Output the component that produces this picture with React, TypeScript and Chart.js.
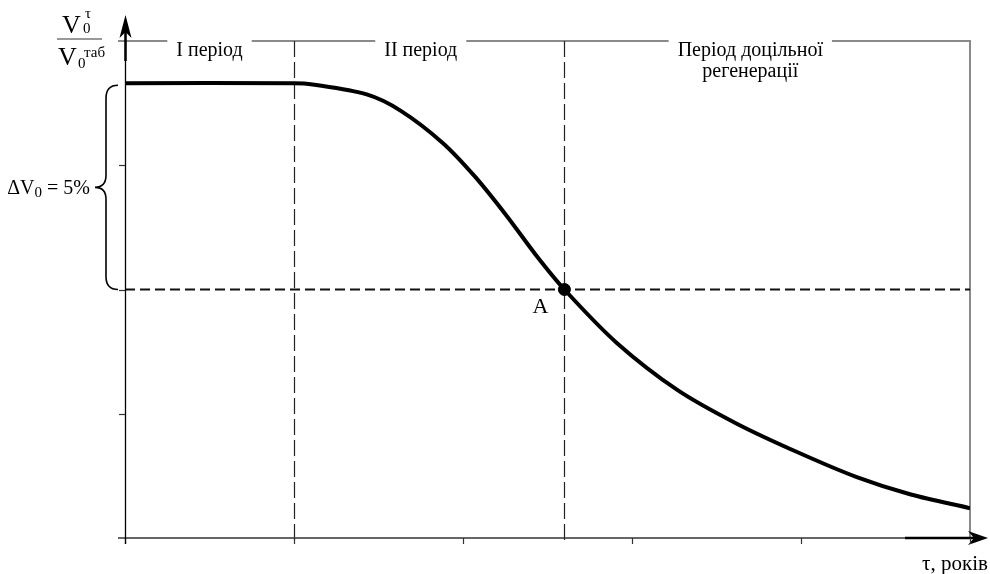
import React, { useEffect, useRef } from "react";
import { Chart, registerables } from "chart.js";

Chart.register(...registerables);

// τ, years (axis units: one tick = 1)
const tau = [0, 1, 1.11, 1.43, 1.63, 1.88, 2.07, 2.26, 2.43, 2.6, 2.91, 3.27, 3.62, 3.98, 4.33, 4.65, 5];
// V0^τ / V0^таб (axis units)
const ratio = [3.66, 3.66, 3.65, 3.57, 3.44, 3.18, 2.91, 2.59, 2.28, 2.0, 1.57, 1.19, 0.92, 0.69, 0.49, 0.35, 0.24];

const xTicks = [0, 1, 2, 3, 4, 5];
const yTicks = [1, 2, 3];
const periodBounds = [1, 2.6];
const pointAx = 2.6;
const pointAy = 2.0;
const periodNames = ["I період", "II період", "Період доцільної\nрегенерації"];
const periodCenters = [0.5, 1.75, 3.7];
const xTitle = "τ, років";

const SERIF = '"Liberation Serif", "Times New Roman", serif';

const decorPlugin = {
  id: "decor",
  beforeDatasetsDraw(chart: any) {
    const { ctx, chartArea: a, scales } = chart;
    const xs = scales.x;
    const ys = scales.y;
    ctx.save();

    // top & right border (gray)
    ctx.strokeStyle = "#8a8a8a";
    ctx.lineWidth = 2;
    ctx.beginPath();
    ctx.moveTo(a.left - 7, a.top);
    ctx.lineTo(a.right, a.top);
    ctx.lineTo(a.right, a.bottom);
    ctx.stroke();

    // vertical dashed period bounds
    ctx.strokeStyle = "#222";
    ctx.lineWidth = 1.2;
    ctx.setLineDash([16, 5]);
    periodBounds.forEach((v) => {
      const px = Math.round(xs.getPixelForValue(v)) + 0.5;
      ctx.beginPath();
      ctx.moveTo(px, a.top);
      ctx.lineTo(px, a.bottom + 5);
      ctx.stroke();
    });

    // horizontal dashed at A level
    ctx.strokeStyle = "#111";
    ctx.lineWidth = 2;
    ctx.setLineDash([10, 5]);
    const pyA = ys.getPixelForValue(pointAy);
    ctx.beginPath();
    ctx.moveTo(a.left, pyA);
    ctx.lineTo(a.right, pyA);
    ctx.stroke();
    ctx.setLineDash([]);

    // x axis
    ctx.strokeStyle = "#333";
    ctx.lineWidth = 1.6;
    ctx.beginPath();
    ctx.moveTo(a.left - 7, a.bottom);
    ctx.lineTo(a.right + 4, a.bottom);
    ctx.stroke();
    ctx.strokeStyle = "#000";
    ctx.lineWidth = 2.5;
    ctx.beginPath();
    ctx.moveTo(a.right - 65, a.bottom);
    ctx.lineTo(a.right + 4, a.bottom);
    ctx.stroke();
    // x arrow head
    ctx.fillStyle = "#000";
    ctx.beginPath();
    ctx.moveTo(a.right + 18, a.bottom);
    ctx.lineTo(a.right - 2, a.bottom - 7);
    ctx.lineTo(a.right + 4, a.bottom);
    ctx.lineTo(a.right - 2, a.bottom + 7);
    ctx.closePath();
    ctx.fill();

    // x ticks
    ctx.strokeStyle = "#333";
    ctx.lineWidth = 1.2;
    xTicks.forEach((v) => {
      const px = Math.round(xs.getPixelForValue(v)) + 0.5;
      ctx.beginPath();
      ctx.moveTo(px, a.bottom);
      ctx.lineTo(px, a.bottom + 6);
      ctx.stroke();
    });

    // y axis
    const yx = Math.round(a.left) + 0.5;
    ctx.strokeStyle = "#000";
    ctx.lineWidth = 1.3;
    ctx.beginPath();
    ctx.moveTo(yx, a.bottom + 6);
    ctx.lineTo(yx, a.top - 20);
    ctx.stroke();
    ctx.lineWidth = 2.5;
    ctx.beginPath();
    ctx.moveTo(yx, a.top - 10);
    ctx.lineTo(yx, a.top + 20);
    ctx.stroke();
    ctx.beginPath();
    ctx.moveTo(yx, a.top - 26);
    ctx.lineTo(yx - 6, a.top - 3);
    ctx.lineTo(yx, a.top - 9);
    ctx.lineTo(yx + 6, a.top - 3);
    ctx.closePath();
    ctx.fill();

    // y ticks
    ctx.lineWidth = 1.2;
    ctx.strokeStyle = "#333";
    yTicks.forEach((v) => {
      const py = Math.round(ys.getPixelForValue(v)) + 0.5;
      ctx.beginPath();
      ctx.moveTo(a.left - 6, py);
      ctx.lineTo(a.left, py);
      ctx.stroke();
    });

    ctx.restore();
  },
  afterDraw(chart: any) {
    const { ctx, chartArea: a, scales } = chart;
    const xs = scales.x;
    const ys = scales.y;
    ctx.save();
    ctx.fillStyle = "#000";
    ctx.textBaseline = "alphabetic";

    // period labels with white gaps in the top border
    ctx.font = `20px ${SERIF}`;
    ctx.textAlign = "center";
    periodNames.forEach((name, i) => {
      const lines = name.split("\n");
      const cx = xs.getPixelForValue(periodCenters[i]);
      const w = ctx.measureText(lines[0]).width;
      ctx.fillStyle = "#fff";
      ctx.fillRect(cx - w / 2 - 9, a.top - 3, w + 18, 6);
      ctx.fillStyle = "#000";
      lines.forEach((ln, j) => {
        ctx.fillText(ln, cx, a.top + 15 + j * 21);
      });
    });

    // point label A
    ctx.font = `22px ${SERIF}`;
    ctx.textAlign = "center";
    ctx.fillText("A", xs.getPixelForValue(pointAx) - 24, ys.getPixelForValue(pointAy) + 23);

    // x title
    ctx.font = `21px ${SERIF}`;
    ctx.textAlign = "right";
    ctx.fillText(xTitle, a.right + 18, a.bottom + 32);

    // brace for ΔV0
    const top = ys.getPixelForValue(ratio[0]) + 2;
    const bot = ys.getPixelForValue(pointAy);
    const mid = (top + bot) / 2;
    const r = a.left - 7;
    const m = a.left - 19;
    const tip = a.left - 30;
    ctx.strokeStyle = "#000";
    ctx.lineWidth = 1.6;
    ctx.beginPath();
    ctx.moveTo(r, top);
    ctx.quadraticCurveTo(m, top, m, top + 13);
    ctx.lineTo(m, mid - 12);
    ctx.quadraticCurveTo(m, mid, tip, mid);
    ctx.quadraticCurveTo(m, mid, m, mid + 12);
    ctx.lineTo(m, bot - 13);
    ctx.quadraticCurveTo(m, bot, r, bot);
    ctx.stroke();

    // ΔV0 = 5% label
    const drawRuns = (runs: [string, number, number][], xRight: number, base: number) => {
      let total = 0;
      runs.forEach(([t, size]) => {
        ctx.font = `${size}px ${SERIF}`;
        total += ctx.measureText(t).width;
      });
      let x = xRight - total;
      ctx.textAlign = "left";
      runs.forEach(([t, size, dy]) => {
        ctx.font = `${size}px ${SERIF}`;
        ctx.fillText(t, x, base + dy);
        x += ctx.measureText(t).width;
      });
    };
    drawRuns(
      [
        ["ΔV", 20, 0],
        ["0", 15, 3],
        [" = 5%", 20, 0],
      ],
      tip - 5,
      mid + 7
    );

    // y-axis title as fraction
    const fx = a.left - 45;
    const fy = a.top - 2;
    ctx.lineWidth = 1;
    ctx.strokeStyle = "#333";
    ctx.beginPath();
    ctx.moveTo(fx - 23, fy);
    ctx.lineTo(fx + 22, fy);
    ctx.stroke();
    ctx.textAlign = "left";
    ctx.font = `26px ${SERIF}`;
    ctx.fillText("V", fx - 18, fy - 6);
    ctx.font = `15px ${SERIF}`;
    ctx.fillText("0", fx + 3, fy - 6);
    ctx.fillText("τ", fx + 5, fy - 21);
    ctx.font = `26px ${SERIF}`;
    ctx.fillText("V", fx - 22, fy + 26);
    ctx.font = `15px ${SERIF}`;
    ctx.fillText("0", fx - 2, fy + 29);
    ctx.fillText("таб", fx + 4, fy + 18);

    ctx.restore();
  },
};

export default function App() {
  const ref = useRef<HTMLCanvasElement | null>(null);
  useEffect(() => {
    if (!ref.current) return;
    const chart = new Chart(ref.current, {
      type: "scatter",
      data: {
        datasets: [
          {
            data: tau.map((t, i) => ({ x: t, y: ratio[i] })),
            showLine: true,
            borderColor: "#000",
            borderWidth: 4,
            pointRadius: 0,
            tension: 0.3,
          } as any,
          {
            data: [{ x: pointAx, y: pointAy }],
            pointRadius: 6,
            pointBackgroundColor: "#000",
            pointBorderColor: "#000",
            showLine: false,
          } as any,
        ],
      },
      options: {
        responsive: false,
        animation: false,
        layout: { padding: { left: 125, right: 20, top: 41, bottom: 36 } },
        scales: {
          x: { type: "linear", min: 0, max: 5, display: false },
          y: { type: "linear", min: 0, max: 4, display: false },
        },
        plugins: { legend: { display: false }, tooltip: { enabled: false } },
      },
      plugins: [decorPlugin],
    });
    return () => chart.destroy();
  }, []);
  return (
    <div style={{ position: "absolute", left: 0, top: 0, width: 990, height: 574, background: "#fff" }}>
      <canvas ref={ref} width={990} height={574} style={{ width: 990, height: 574, display: "block" }} />
    </div>
  );
}
